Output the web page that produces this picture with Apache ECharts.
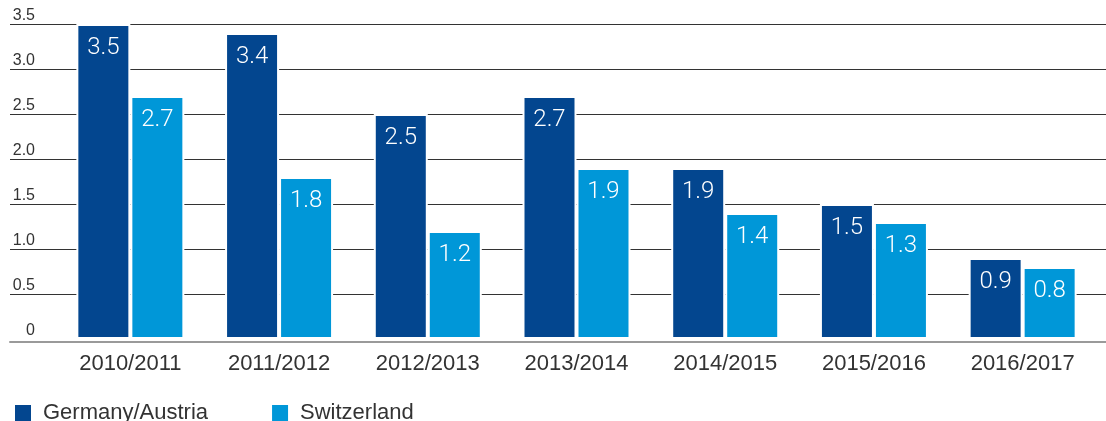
<!DOCTYPE html>
<html>
<head>
<meta charset="utf-8">
<title>Germany/Austria vs Switzerland</title>
<script src="https://cdn.jsdelivr.net/npm/echarts@6/dist/echarts.min.js"></script>
<style>
    html, body { margin: 0; padding: 0; background: #fff; }
    #main { width: 1106px; height: 421px; }
</style>
</head>
<body>
<div id="main"></div>
<script>
// data
var seasons = ['2010/2011', '2011/2012', '2012/2013', '2013/2014', '2014/2015', '2015/2016', '2016/2017'];
var germanyAustria = [3.5, 3.4, 2.5, 2.7, 1.9, 1.5, 0.9];
var switzerland = [2.7, 1.8, 1.2, 1.9, 1.4, 1.3, 0.8];
var yTicks = [0, 0.5, 1.0, 1.5, 2.0, 2.5, 3.0, 3.5];

function drawChart(div) {
    var myChart = echarts.init(document.getElementById(div));

    var fontMain = 'Liberation Sans, Arial, sans-serif';
    var fontBar = 'Roboto, Liberation Sans, sans-serif';

    var barLabel = {
        show: true,
        position: 'insideTop',
        distance: 12,
        color: '#fff',
        fontFamily: fontBar,
        fontWeight: 300,
        fontSize: 24,
        formatter: function (p) {
            return p.value.toFixed(1);
        }
    };

    var option = {
        animation: false,
        // grid 0 only carries the full-width gridlines, grid 1 the bars
        grid: [{
            left: 10, right: 0, top: 24, bottom: 82
        }, {
            left: 56, right: 9, top: 24, bottom: 82
        }],
        legend: {
            left: 10,
            top: 397,
            icon: 'rect',
            itemWidth: 16,
            itemHeight: 16,
            itemGap: 64,
            itemStyle: {borderWidth: 0},
            textStyle: {
                color: '#333',
                fontFamily: fontMain,
                fontSize: 22,
                padding: [0, 0, 0, 7]
            },
            data: ['Germany/Austria', 'Switzerland']
        },
        xAxis: [{
            gridIndex: 0,
            type: 'category',
            data: seasons,
            offset: 3,
            axisLine: {show: true, onZero: false, lineStyle: {color: '#9a9a9a', width: 2}},
            axisTick: {show: false},
            axisLabel: {show: false}
        }, {
            gridIndex: 1,
            type: 'category',
            data: seasons,
            axisLine: {show: false},
            axisTick: {show: false},
            axisLabel: {
                margin: 14,
                color: '#333',
                fontFamily: fontMain,
                fontSize: 22
            }
        }],
        yAxis: [{
            gridIndex: 0,
            type: 'value',
            min: yTicks[0],
            max: yTicks[yTicks.length - 1],
            interval: 0.5,
            axisLine: {show: false},
            axisTick: {show: false},
            axisLabel: {
                inside: true,
                align: 'right',
                verticalAlign: 'bottom',
                margin: 25,
                color: '#333',
                fontFamily: fontMain,
                fontSize: 16,
                formatter: function (v) {
                    return v === 0 ? '0' : v.toFixed(1);
                }
            },
            splitLine: {show: true, showMinLine: false, lineStyle: {color: '#333', width: 1}}
        }, {
            gridIndex: 1,
            type: 'value',
            min: yTicks[0],
            max: yTicks[yTicks.length - 1],
            interval: 0.5,
            show: false,
            splitLine: {show: false}
        }],
        series: [{
            name: 'Germany/Austria',
            type: 'bar',
            xAxisIndex: 1,
            yAxisIndex: 1,
            barWidth: 54,
            barGap: '0%',
            itemStyle: {color: '#03468f', borderColor: '#fff', borderWidth: 2},
            label: barLabel,
            data: germanyAustria
        }, {
            name: 'Switzerland',
            type: 'bar',
            xAxisIndex: 1,
            yAxisIndex: 1,
            barWidth: 54,
            barGap: '0%',
            itemStyle: {color: '#0097d8', borderColor: '#fff', borderWidth: 2},
            label: barLabel,
            data: switzerland
        }]
    };

    myChart.setOption(option);
}

drawChart('main');
</script>
</body>
</html>
